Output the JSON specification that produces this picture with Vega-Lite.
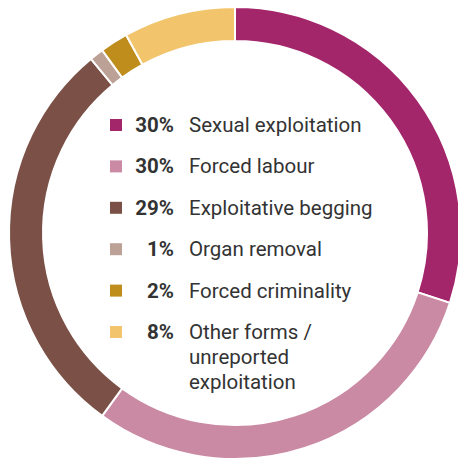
{
  "$schema": "https://vega.github.io/schema/vega-lite/v6.json",
  "width": 470,
  "height": 466,
  "autosize": {"type": "none"},
  "padding": 0,
  "background": "white",
  "view": {"stroke": null},
  "data": {
    "values": [
      {"order": 1, "type": "Sexual exploitation", "label": "Sexual exploitation", "pct": 30, "pctText": "30%"},
      {"order": 2, "type": "Forced labour", "label": "Forced labour", "pct": 30, "pctText": "30%"},
      {"order": 3, "type": "Exploitative begging", "label": "Exploitative begging", "pct": 29, "pctText": "29%"},
      {"order": 4, "type": "Organ removal", "label": "Organ removal", "pct": 1, "pctText": "1%"},
      {"order": 5, "type": "Forced criminality", "label": "Forced criminality", "pct": 2, "pctText": "2%"},
      {"order": 6, "type": "Other forms / unreported exploitation", "label": "Other forms /\nunreported\nexploitation", "pct": 8, "pctText": "8%"}
    ]
  },
  "layer": [
    {
      "mark": {"type": "arc", "radius": 226, "radius2": 192, "stroke": "white", "strokeWidth": 2, "x": 235, "y": 233},
      "encoding": {
        "theta": {"field": "pct", "type": "quantitative", "stack": true},
        "order": {"field": "order", "type": "quantitative"},
        "color": {
          "field": "type", "type": "nominal", "legend": null,
          "scale": {
            "domain": ["Sexual exploitation", "Forced labour", "Exploitative begging", "Organ removal", "Forced criminality", "Other forms / unreported exploitation"],
            "range": ["#A3266B", "#CB8AA3", "#7B5147", "#BCA196", "#BE8D1C", "#F2C56D"]
          }
        }
      }
    },
    {
      "mark": {"type": "square", "size": 144, "filled": true, "opacity": 1},
      "encoding": {
        "x": {"datum": 116, "type": "quantitative", "scale": {"domain": [0, 470], "range": [0, 470], "nice": false, "zero": false}, "axis": null},
        "y": {"field": "order", "type": "quantitative", "scale": {"domain": [1, 6], "range": [125, 332], "nice": false, "zero": false}, "axis": null},
        "color": {"field": "type", "type": "nominal", "legend": null}
      }
    },
    {
      "mark": {"type": "text", "align": "right", "baseline": "alphabetic", "dy": 7, "font": "Roboto", "fontWeight": "bold", "fontSize": 20.5, "color": "#333333"},
      "encoding": {
        "x": {"datum": 174, "type": "quantitative"},
        "y": {"field": "order", "type": "quantitative"},
        "text": {"field": "pctText"}
      }
    },
    {
      "mark": {"type": "text", "align": "left", "baseline": "alphabetic", "dy": 7, "font": "Roboto", "fontSize": 20.5, "color": "#333333", "lineBreak": "\n", "lineHeight": 25},
      "encoding": {
        "x": {"datum": 189, "type": "quantitative"},
        "y": {"field": "order", "type": "quantitative"},
        "text": {"field": "label"}
      }
    }
  ]
}
